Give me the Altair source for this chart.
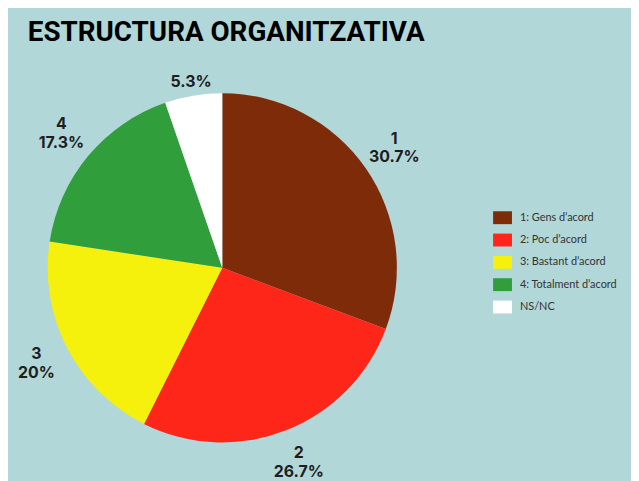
import altair as alt
import pandas as pd

categories = ["1: Gens d’acord", "2: Poc d’acord", "3: Bastant d’acord", "4: Totalment d’acord", "NS/NC"]
short_labels = ["1", "2", "3", "4", ""]
values = [30.7, 26.7, 20.0, 17.3, 5.3]
pct_labels = ["30.7%", "26.7%", "20%", "17.3%", "5.3%"]
colors = ["#7e2b0a", "#fd2618", "#f6f10c", "#2f9e3b", "#ffffff"]

df = pd.DataFrame({
    "cat": categories,
    "value": values,
    "order": list(range(len(categories))),
    "lab2": [f"{s}\n{p}" if s else "" for s, p in zip(short_labels, pct_labels)],
    "lab1": ["" if s else p for s, p in zip(short_labels, pct_labels)],
})

CX, CY = 216, 260

base = alt.Chart(df)

pie = base.mark_arc(radius=176, strokeWidth=0).encode(
    theta=alt.Theta("value:Q", stack=True),
    order=alt.Order("order:Q"),
    color=alt.Color(
        "cat:N",
        scale=alt.Scale(domain=categories, range=colors),
        legend=alt.Legend(
            title=None,
            orient="none",
            legendX=489,
            legendY=200,
            symbolType="M-1,-0.684H1V0.684H-1Z",
            symbolSize=361,
            symbolStrokeWidth=0,
            labelFont="Lato",
            labelFontSize=11,
            labelColor="#333333",
            labelOffset=8,
            rowPadding=6.5,
            padding=0,
        ),
    ),
    x=alt.value(CX),
    y=alt.value(CY),
)

text2 = base.mark_text(
    radius=211, font="Inter", fontSize=16, fontWeight="bold", color="#1e1e1e",
    lineBreak="\n", lineHeight=19, align="center", baseline="middle", dy=-10,
).encode(
    theta=alt.Theta("value:Q", stack=True),
    order=alt.Order("order:Q"),
    text="lab2:N",
    x=alt.value(CX),
    y=alt.value(CY),
)

text1 = base.mark_text(
    radius=190, font="Inter", fontSize=16, fontWeight="bold", color="#1e1e1e",
    align="center", baseline="middle",
).encode(
    theta=alt.Theta("value:Q", stack=True),
    order=alt.Order("order:Q"),
    text="lab1:N",
    x=alt.value(CX),
    y=alt.value(CY),
)

chart = alt.layer(pie, text2, text1).properties(
    width=628,
    height=473,
    autosize=alt.AutoSizeParams(type="none"),
    padding=0,
    background="#b2d7d8",
    title=alt.TitleParams(
        "ESTRUCTURA ORGANITZATIVA",
        anchor="start",
        frame="group",
        font="Roboto",
        fontSize=28,
        fontWeight="bold",
        color="#000000",
        dx=20,
        dy=37,
        offset=0,
    ),
).configure_view(stroke=None)

chart.save("out.html", embed_options={"renderer": "svg", "actions": False})
